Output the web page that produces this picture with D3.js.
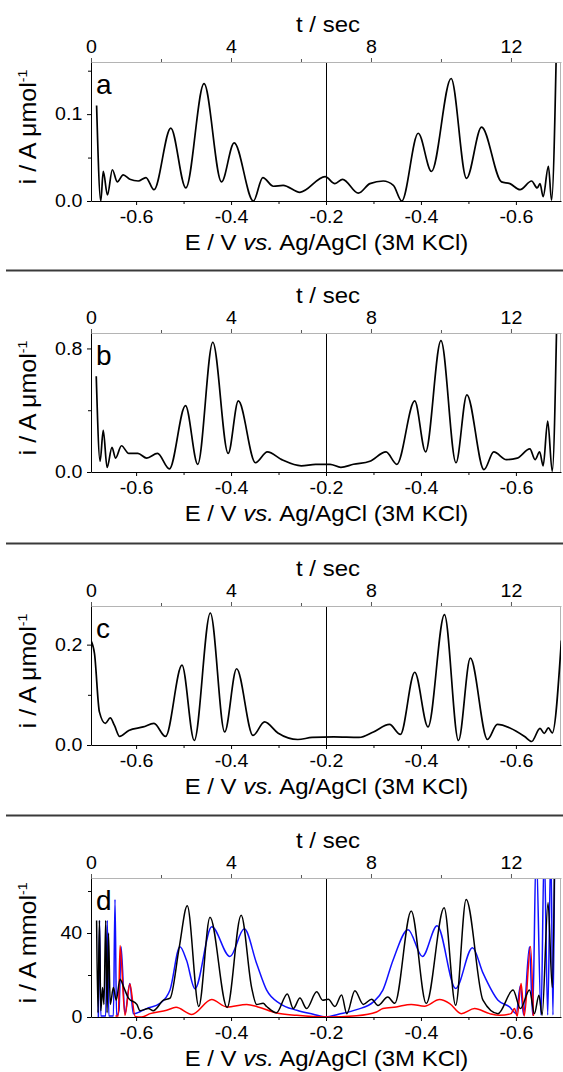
<!DOCTYPE html>
<html>
<head>
<meta charset="utf-8">
<script src="https://cdn.jsdelivr.net/npm/d3@7"></script>
<style>
  html, body { margin: 0; padding: 0; background: #fff; }
  svg { display: block; }
  text { font-family: "Liberation Sans", Arial, sans-serif; fill: #000; }
</style>
</head>
<body>
<svg id="chart" width="563" height="1072"></svg>
<script>
// ---- sweep: elapsed time and the potential it corresponds to ----
const timeTicks = [0, 4, 8, 12];
const timeMinor = [2, 6, 10];
const tEnd = 13.43;               // s, full forward + reverse sweep
const eStart = -0.695;            // V, start / end potential
const eVertex = -0.2;             // V, switching potential
const eTicksForward = [-0.6, -0.4, -0.2];
const eTicksReverse = [-0.4, -0.6];
const eMinorForward = [-0.5, -0.3];
const eMinorReverse = [-0.3, -0.5];

// ---- a ----
const tA = [0.16,0.28,0.35,0.47,0.61,0.75,0.92,1.11,1.35,1.57,1.80,2.28,2.71,3.23,3.73,4.09,4.64,4.91,5.21,5.49,5.97,6.69,6.97,7.19,7.64,7.97,8.35,8.64,8.88,9.35,9.73,10.29,10.73,11.16,11.73,11.97,12.26,12.59,12.75,12.83,12.92,13.07,13.16,13.31];
const iA = [0.110,0.000,0.034,0.007,0.036,0.022,0.030,0.025,0.023,0.027,0.013,0.084,0.015,0.135,0.022,0.067,0.000,0.027,0.017,0.018,0.010,0.028,0.020,0.025,0.009,0.020,0.023,0.018,0.000,0.078,0.034,0.141,0.026,0.085,0.022,0.020,0.013,0.023,0.015,0.020,0.005,0.040,0.001,0.200];

// ---- b ----
const tB = [0.15,0.26,0.35,0.46,0.60,0.70,0.87,1.08,1.34,1.59,1.90,2.24,2.70,3.05,3.48,3.92,4.21,4.70,5.04,5.45,6.01,6.42,6.83,7.14,7.50,7.97,8.43,8.74,9.25,9.56,10.00,10.43,10.74,11.23,11.51,11.87,12.18,12.54,12.69,12.82,12.92,13.05,13.18,13.31];
const iB = [0.62,0.07,0.27,0.03,0.16,0.09,0.17,0.12,0.12,0.09,0.12,0.02,0.43,0.05,0.84,0.12,0.46,0.06,0.13,0.08,0.04,0.05,0.05,0.03,0.05,0.07,0.13,0.05,0.46,0.13,0.85,0.06,0.50,0.015,0.13,0.08,0.09,0.15,0.08,0.13,0.04,0.33,0.004,1.0];

// ---- c ----
const tC = [0,0.10,0.24,0.41,0.55,0.67,0.82,1.08,1.49,1.80,2.13,2.60,2.95,3.41,3.82,4.16,4.63,4.96,5.34,5.91,6.32,6.94,7.66,8.07,8.53,8.84,9.25,9.63,10.10,10.50,10.84,11.33,11.61,11.97,12.39,12.59,12.83,12.95,13.07,13.18,13.44];
const iC = [0.208,0.182,0.066,0.043,0.054,0.039,0.017,0.029,0.036,0.043,0.017,0.159,0.009,0.263,0.026,0.152,0.019,0.046,0.024,0.011,0.015,0.016,0.015,0.026,0.041,0.021,0.145,0.036,0.260,0.009,0.173,0.011,0.041,0.034,0.017,0.007,0.033,0.023,0.034,0.024,0.208];

// ---- d (three traces) ----
const tDk = [0.16,0.20,0.24,0.28,0.33,0.37,0.42,0.46,0.50,0.55,0.64,0.72,0.83,0.94,1.07,1.31,1.40,1.64,1.78,2.07,2.26,2.52,2.75,3.08,3.40,3.89,4.29,4.59,4.73,4.92,5.02,5.30,5.61,5.78,5.97,6.16,6.45,6.62,6.78,6.97,7.16,7.31,7.54,7.78,8.02,8.20,8.48,8.68,9.15,9.58,10.09,10.42,10.72,11.20,11.63,12.06,12.27,12.53,12.67,12.80,12.89,13.06,13.18,13.25];
const iDk = [46,2,46,3,14,6,46,2,40,6,14,8,18,14,9,6,3,4,3,8,9,33,53,5,47.5,4.5,48.5,14,6,6.5,5,2,11,4,9,4,12,8,8.5,5,10.5,1.6,12.5,6,8.5,5.5,9.5,6.5,50.5,6.4,52,5.6,56,8,1.6,12.8,4,12.8,1.6,10.4,0.8,54.5,14,80];

const tDb = [0.21,0.245,0.28,0.42,0.465,0.51,0.64,0.686,0.73,0.80,0.86,0.97,1.11,1.21,1.40,1.59,1.97,2.26,2.54,2.73,2.97,3.45,3.97,4.38,4.73,5.02,5.40,5.88,6.35,6.71,7.07,7.59,8.07,8.34,8.63,9.06,9.47,9.89,10.42,10.90,11.20,11.63,11.96,12.15,12.27,12.36,12.53,12.62,12.72,12.86,12.95,13.05,13.14,13.20,13.25];
const iDb = [0,46,0.5,0.5,46,0.5,0.5,56,0.5,3,33.5,1.5,16,1.5,2.5,4,6.5,13,33.5,27,13.5,43,28.8,42,25.6,12.8,6.4,3.2,1.3,0,1.3,3.5,7.2,12.8,27,41.6,28.8,43.5,13.6,33,21,8,4.8,1.6,15,1,33.5,1,80,1,80,1,80,1,80];

const tDr = [0.70,0.78,0.83,0.97,1.11,1.26,1.45,1.69,2.16,2.43,2.88,3.45,3.88,4.45,4.77,5.30,5.88,6.71,7.59,8.16,8.34,8.72,9.15,9.53,9.96,10.25,10.58,10.96,11.39,11.67,12.00,12.10,12.18,12.29,12.38,12.56,12.64];
const iDr = [0.5,0.5,34,0.8,15.7,0.3,0,1.6,3.2,4.6,1.2,8.3,4.8,6,4.8,1.9,0.8,0,0.6,2.4,4,4.8,6,5.1,8.3,6.4,1.6,4,1.6,0.8,1.6,4,0.5,16,0.5,33.6,0.5];

// ---- panel descriptions ----
const panels = [
  { letter: "a", unit: "μmol", yMax: 0.16, yMajor: [0, 0.1], yMinor: [0.05, 0.15], digits: 1,
    series: [{ t: tA, i: iA, color: "#000" }] },
  { letter: "b", unit: "μmol", yMax: 0.90, yMajor: [0, 0.8], yMinor: [0.4], digits: 1,
    series: [{ t: tB, i: iB, color: "#000" }] },
  { letter: "c", unit: "μmol", yMax: 0.277, yMajor: [0, 0.2], yMinor: [0.1], digits: 1,
    series: [{ t: tC, i: iC, color: "#000" }] },
  { letter: "d", unit: "mmol", yMax: 66.2, yMajor: [0, 40], yMinor: [20, 60], digits: 0,
    series: [
      { t: tDb, i: iDb, color: "#1010ff" },
      { t: tDr, i: iDr, color: "#ff0000" },
      { t: tDk, i: iDk, color: "#000" }
    ] }
];

// ---- layout ----
const svg = d3.select("#chart");
const panelOffsets = [0, 271, 544, 816];
const plotL = 91, plotR = 561, plotT = 62, plotB = 201;
const FONT_TICK = 18, FONT_TITLE = 22, FONT_YTITLE = 23, STRETCH = 1.09;

const xT = d3.scaleLinear().domain([0, tEnd]).range([plotL, plotR]);
// unfolded potential: forward branch as is, reverse branch mirrored about the vertex
const unfold = (e, reverse) => reverse ? 2 * eVertex - e : e;
const xU = d3.scaleLinear().domain([eStart, unfold(eStart, true)]).range([plotL, plotR]);
const foldLabel = u => (u <= eVertex + 1e-9 ? u : 2 * eVertex - u).toFixed(1);

function styleAxis(g, color, tickColor) {
  g.select(".domain").attr("stroke", color).attr("stroke-width", 1);
  g.selectAll(".tick line").attr("stroke", tickColor);
  g.selectAll(".tick text")
    .attr("font-size", FONT_TICK)
    .attr("font-family", "Liberation Sans, Arial, sans-serif")
    .attr("fill", "#000")
    .attr("transform", `scale(${STRETCH},1)`);
}

function textAt(g, x, y, str, size, anchor, extra) {
  return g.append("text")
    .attr("transform", `translate(${x},${y}) ${extra || ""} scale(${STRETCH},1)`)
    .attr("text-anchor", anchor)
    .attr("font-size", size)
    .text(str);
}

panels.forEach((p, k) => {
  const oy = panelOffsets[k];
  const g = svg.append("g").attr("transform", `translate(0,${oy})`);
  const y = d3.scaleLinear().domain([0, p.yMax]).range([plotB, plotT]);

  // separator above each lower panel
  if (k > 0) {
    svg.append("line")
      .attr("x1", 6).attr("x2", 563)
      .attr("y1", oy - 0.5).attr("y2", oy - 0.5)
      .attr("stroke", "#3a3a3a").attr("stroke-width", 2);
  }

  // clip to the plotting area
  const clipId = "clip-" + p.letter;
  g.append("clipPath").attr("id", clipId)
    .append("rect").attr("x", plotL).attr("y", plotT)
    .attr("width", plotR - plotL).attr("height", plotB - plotT);

  // frame: light right edge
  g.append("line").attr("x1", plotR - 0.5).attr("x2", plotR - 0.5)
    .attr("y1", plotT).attr("y2", plotB).attr("stroke", "#b4b4b4");

  // switching potential marker
  g.append("line")
    .attr("x1", Math.round(xT(tEnd / 2)) + 0.5).attr("x2", Math.round(xT(tEnd / 2)) + 0.5)
    .attr("y1", plotT).attr("y2", plotB)
    .attr("stroke", "#000").attr("stroke-width", 1);

  // traces
  const line = d3.line()
    .x(d => xT(d[0]))
    .y(d => y(d[1]))
    .curve(d3.curveMonotoneX);
  const traces = g.append("g").attr("clip-path", `url(#${clipId})`);
  p.series.forEach(s => {
    traces.append("path")
      .datum(d3.zip(s.t, s.i))
      .attr("fill", "none")
      .attr("stroke", s.color)
      .attr("stroke-width", k === 3 ? 1.5 : 1.7)
      .attr("stroke-linejoin", "round")
      .attr("d", line);
  });

  // top axis: time
  const gTop = g.append("g").attr("transform", `translate(0,${plotT})`)
    .call(d3.axisTop(xT).tickValues(timeTicks).tickFormat(d3.format("d"))
      .tickSize(4).tickSizeOuter(0).tickPadding(5));
  styleAxis(gTop, "#b4b4b4", "#555");
  g.append("g").attr("transform", `translate(0,${plotT})`)
    .call(d3.axisTop(xT).tickValues(timeMinor).tickFormat("").tickSize(3).tickSizeOuter(0))
    .call(a => { a.select(".domain").remove(); a.selectAll(".tick line").attr("stroke", "#555"); });

  // bottom axis: potential, folded at the vertex
  const uMajor = eTicksForward.map(e => unfold(e, false)).concat(eTicksReverse.map(e => unfold(e, true)));
  const uMinor = eMinorForward.map(e => unfold(e, false)).concat(eMinorReverse.map(e => unfold(e, true)));
  const gBot = g.append("g").attr("transform", `translate(0,${plotB})`)
    .call(d3.axisBottom(xU).tickValues(uMajor).tickFormat(foldLabel)
      .tickSize(4).tickSizeOuter(0).tickPadding(5));
  styleAxis(gBot, "#000", "#000");
  g.append("g").attr("transform", `translate(0,${plotB})`)
    .call(d3.axisBottom(xU).tickValues(uMinor).tickFormat("").tickSize(3).tickSizeOuter(0))
    .call(a => a.select(".domain").remove());

  // left axis: current
  const gLeft = g.append("g").attr("transform", `translate(${plotL},0)`)
    .call(d3.axisLeft(y).tickValues(p.yMajor).tickFormat(d => d.toFixed(p.digits))
      .tickSize(4).tickSizeOuter(0).tickPadding(4));
  styleAxis(gLeft, "#000", "#000");
  g.append("g").attr("transform", `translate(${plotL},0)`)
    .call(d3.axisLeft(y).tickValues(p.yMinor).tickFormat("").tickSize(3).tickSizeOuter(0))
    .call(a => a.select(".domain").remove());

  // titles
  textAt(g, 328, 31.5, "t / sec", FONT_TITLE, "middle");
  const xt = g.append("text")
    .attr("transform", `translate(326.5,250) scale(${STRETCH},1)`)
    .attr("text-anchor", "middle").attr("font-size", FONT_TITLE);
  xt.append("tspan").text("E / V ");
  xt.append("tspan").attr("font-style", "italic").text("vs.");
  xt.append("tspan").text(" Ag/AgCl (3M KCl)");

  const yt = g.append("text")
    .attr("transform", `translate(36,127) rotate(-90) scale(${STRETCH},1)`)
    .attr("text-anchor", "middle").attr("font-size", FONT_YTITLE);
  yt.append("tspan").text("i / A " + p.unit);
  yt.append("tspan").attr("font-size", 13).attr("dy", -9).text("-1");

  // panel letter
  g.append("text").attr("x", 96).attr("y", 93.5)
    .attr("font-size", 28).text(p.letter);
});
</script>
</body>
</html>
